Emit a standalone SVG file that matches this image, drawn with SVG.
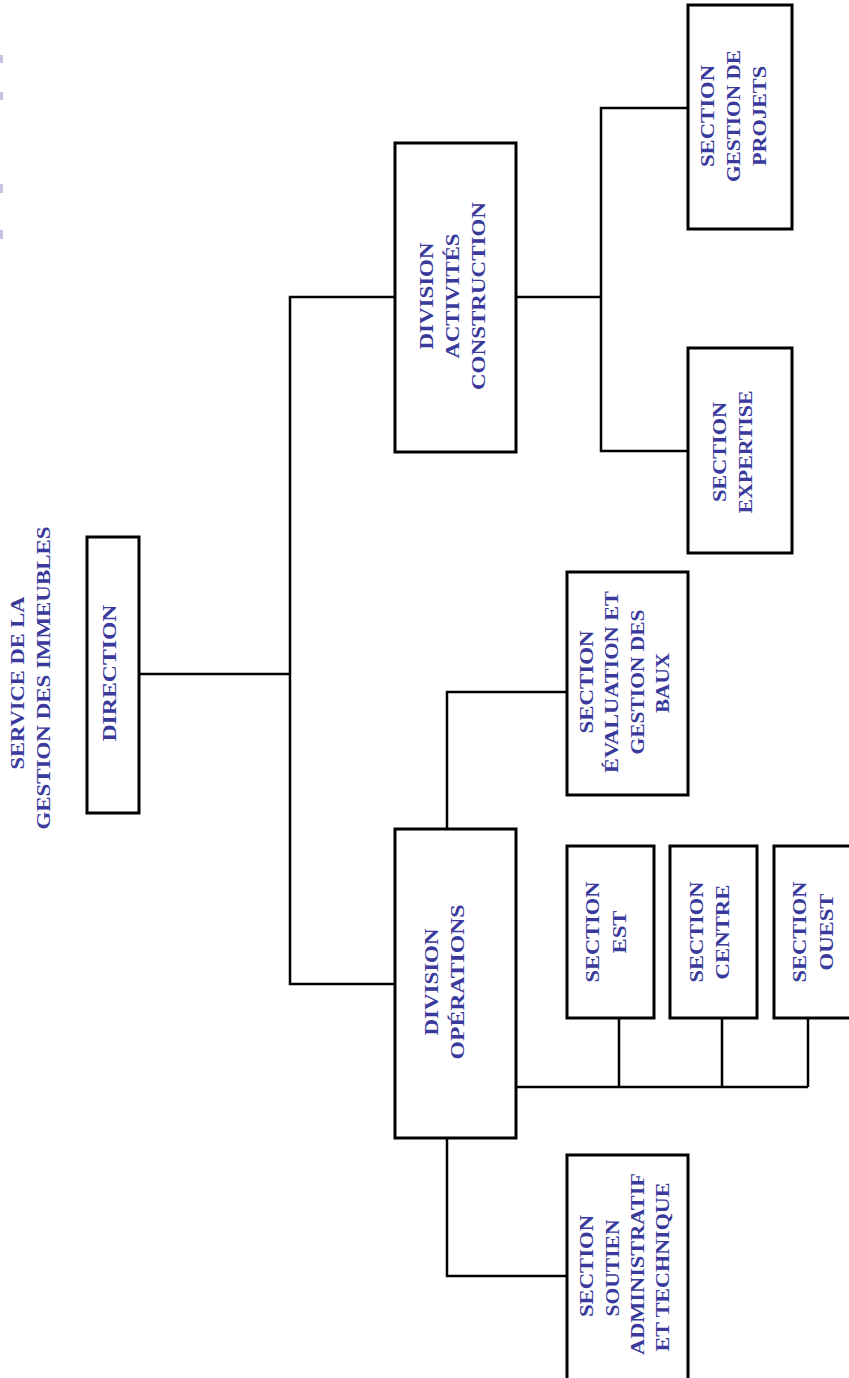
<svg xmlns="http://www.w3.org/2000/svg" width="849" height="1378" viewBox="0 0 849 1378">
<style>
.box{fill:#fff;stroke:#000;stroke-width:3}
.ln{fill:none;stroke:#000;stroke-width:2.5}
.t{font-family:"Liberation Serif","Times New Roman",serif;font-size:18px;font-weight:bold;fill:#3a3a9c;text-anchor:middle;dominant-baseline:central}
.mk{fill:#c4c4e2}
</style>
<rect width="849" height="1378" fill="#fff"/>
<g id="edge-marks">
<rect class="mk" x="0" y="55" width="3" height="8"/>
<rect class="mk" x="0" y="92" width="3" height="8"/>
<rect class="mk" x="0" y="184" width="3" height="9"/>
<rect class="mk" x="0" y="230" width="3" height="9"/>
</g>
<g id="title">
<text class="t" transform="translate(18,683) rotate(-90)" textLength="173" lengthAdjust="spacingAndGlyphs">SERVICE DE LA</text>
<text class="t" transform="translate(44,678) rotate(-90)" textLength="303" lengthAdjust="spacingAndGlyphs">GESTION DES IMMEUBLES</text>
</g>
<g id="connectors">
<polyline class="ln" points="139,674 290,674"/>
<polyline class="ln" points="395,297 290,297 290,984 395,984"/>
<polyline class="ln" points="516,297 601,297"/>
<polyline class="ln" points="688,108 601,108 601,451 688,451"/>
<polyline class="ln" points="447,829 447,692 567,692"/>
<polyline class="ln" points="447,1138 447,1276 567,1276"/>
<polyline class="ln" points="516,1087 808,1087"/>
<polyline class="ln" points="619,1018 619,1087"/>
<polyline class="ln" points="722,1018 722,1087"/>
<polyline class="ln" points="808,1018 808,1087"/>
</g>
<g id="direction">
<rect class="box" x="87" y="537" width="52" height="276"/>
<text class="t" transform="translate(110,673) rotate(-90)" textLength="137" lengthAdjust="spacingAndGlyphs">DIRECTION</text>
</g>
<g id="div-activites">
<rect class="box" x="395" y="143" width="121" height="309"/>
<text class="t" transform="translate(427,296) rotate(-90)" textLength="107" lengthAdjust="spacingAndGlyphs">DIVISION</text>
<text class="t" transform="translate(453,296) rotate(-90)" textLength="125" lengthAdjust="spacingAndGlyphs">ACTIVITÉS</text>
<text class="t" transform="translate(479,296) rotate(-90)" textLength="188" lengthAdjust="spacingAndGlyphs">CONSTRUCTION</text>
</g>
<g id="sec-projets">
<rect class="box" x="688" y="5" width="104" height="224"/>
<text class="t" transform="translate(708,116) rotate(-90)" textLength="102" lengthAdjust="spacingAndGlyphs">SECTION</text>
<text class="t" transform="translate(734,116) rotate(-90)" textLength="132" lengthAdjust="spacingAndGlyphs">GESTION DE</text>
<text class="t" transform="translate(760,116) rotate(-90)" textLength="100" lengthAdjust="spacingAndGlyphs">PROJETS</text>
</g>
<g id="sec-expertise">
<rect class="box" x="688" y="348" width="104" height="205"/>
<text class="t" transform="translate(720,452) rotate(-90)" textLength="100" lengthAdjust="spacingAndGlyphs">SECTION</text>
<text class="t" transform="translate(746,452) rotate(-90)" textLength="123" lengthAdjust="spacingAndGlyphs">EXPERTISE</text>
</g>
<g id="sec-evaluation">
<rect class="box" x="567" y="572" width="121" height="223"/>
<text class="t" transform="translate(587,682) rotate(-90)" textLength="103" lengthAdjust="spacingAndGlyphs">SECTION</text>
<text class="t" transform="translate(612,682) rotate(-90)" textLength="182" lengthAdjust="spacingAndGlyphs">ÉVALUATION ET</text>
<text class="t" transform="translate(638,682) rotate(-90)" textLength="145" lengthAdjust="spacingAndGlyphs">GESTION DES</text>
<text class="t" transform="translate(663,683) rotate(-90)" textLength="60" lengthAdjust="spacingAndGlyphs">BAUX</text>
</g>
<g id="div-operations">
<rect class="box" x="395" y="829" width="121" height="309"/>
<text class="t" transform="translate(432,982) rotate(-90)" textLength="107" lengthAdjust="spacingAndGlyphs">DIVISION</text>
<text class="t" transform="translate(458,982) rotate(-90)" textLength="155" lengthAdjust="spacingAndGlyphs">OPÉRATIONS</text>
</g>
<g id="sec-est">
<rect class="box" x="567" y="846" width="87" height="172"/>
<text class="t" transform="translate(593,932) rotate(-90)" textLength="101" lengthAdjust="spacingAndGlyphs">SECTION</text>
<text class="t" transform="translate(620,932) rotate(-90)" textLength="43" lengthAdjust="spacingAndGlyphs">EST</text>
</g>
<g id="sec-centre">
<rect class="box" x="670" y="846" width="87" height="172"/>
<text class="t" transform="translate(697,932) rotate(-90)" textLength="101" lengthAdjust="spacingAndGlyphs">SECTION</text>
<text class="t" transform="translate(723,932) rotate(-90)" textLength="95" lengthAdjust="spacingAndGlyphs">CENTRE</text>
</g>
<g id="sec-ouest">
<rect class="box" x="774" y="846" width="87" height="172"/>
<text class="t" transform="translate(800,932) rotate(-90)" textLength="101" lengthAdjust="spacingAndGlyphs">SECTION</text>
<text class="t" transform="translate(827,932) rotate(-90)" textLength="77" lengthAdjust="spacingAndGlyphs">OUEST</text>
</g>
<g id="sec-soutien">
<rect class="box" x="567" y="1155" width="121" height="240"/>
<text class="t" transform="translate(587,1266) rotate(-90)" textLength="102" lengthAdjust="spacingAndGlyphs">SECTION</text>
<text class="t" transform="translate(613,1268) rotate(-90)" textLength="97" lengthAdjust="spacingAndGlyphs">SOUTIEN</text>
<text class="t" transform="translate(638,1264) rotate(-90)" textLength="182" lengthAdjust="spacingAndGlyphs">ADMINISTRATIF</text>
<text class="t" transform="translate(663,1267) rotate(-90)" textLength="169" lengthAdjust="spacingAndGlyphs">ET TECHNIQUE</text>
</g>
</svg>
